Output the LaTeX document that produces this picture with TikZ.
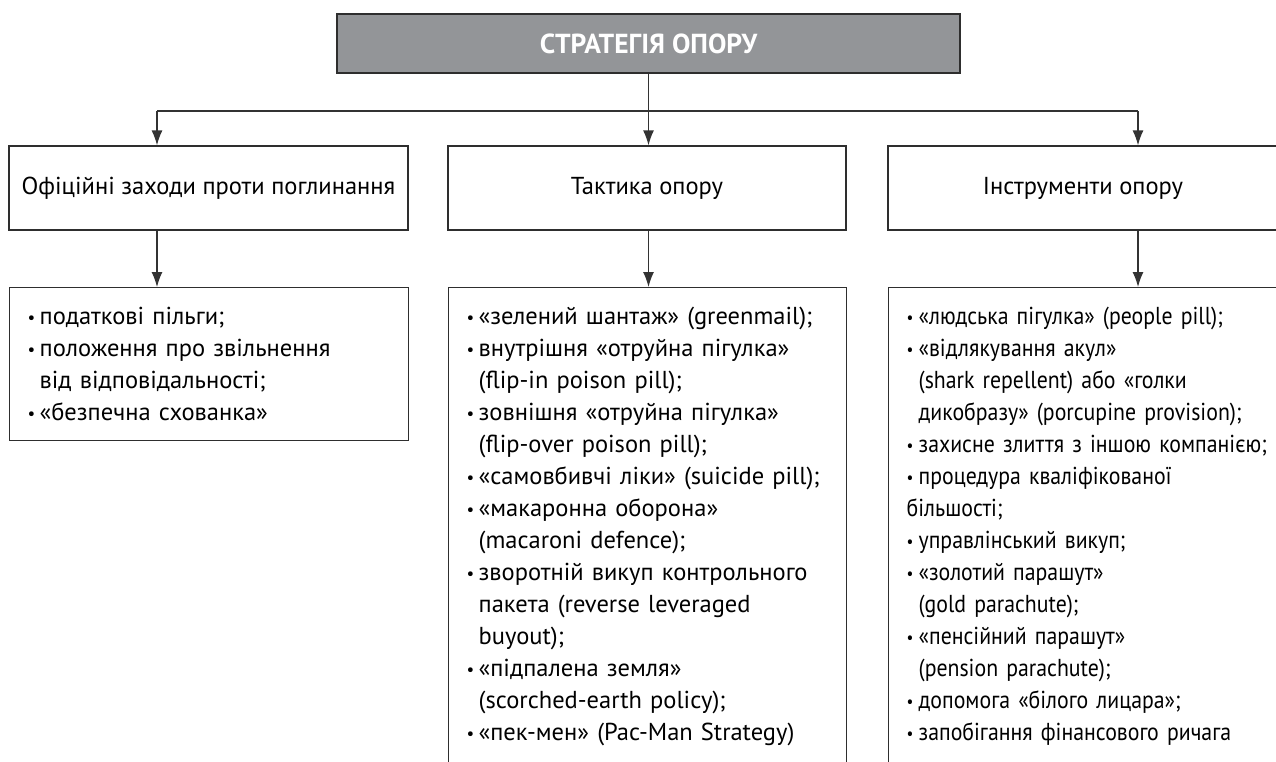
\documentclass[tikz,border=0pt]{standalone}
\usepackage{fontspec}
\setmainfont{PT Sans}
\newfontfamily\narrowfont{PT Sans}[FakeStretch=0.89]
\usetikzlibrary{arrows.meta,positioning}
\newcommand{\bul}{\makebox[12pt][l]{\raisebox{1pt}{\fontsize{17}{17}\selectfont•}}}
\newcommand{\ind}{\hspace*{12pt}}
\hyphenpenalty=10000
\exhyphenpenalty=10000

\begin{document}
\begin{tikzpicture}[x=1pt,y=-1pt,
  frame/.style={draw=framegray,line width=1.3pt},
  headbox/.style={frame,minimum width=399pt,minimum height=84pt,inner sep=0pt,font=\fontsize{24.5}{31}\selectfont},
  listbox/.style={frame,anchor=north west,align=left,inner xsep=18pt,inner ysep=19pt,font=\fontsize{24.5}{32}\selectfont},
  arr/.style={draw=linegray,line width=1.3pt,-{Latex[length=15pt,width=11pt]}}]
\definecolor{framegray}{HTML}{2E2E2E}
\definecolor{linegray}{HTML}{333333}
\definecolor{titlegray}{HTML}{939598}
\useasboundingbox (0,0) rectangle (1276,761);

% title
\node [frame,fill=titlegray,minimum width=623pt,minimum height=59pt,inner sep=0pt,
  text=white,font=\fontsize{27.5}{28}\selectfont\bfseries] (strategy) at (648.5,43.5) {СТРАТЕГІЯ ОПОРУ};

% first row
\node [headbox] (official) at (208.5,188) {Офіційні заходи проти поглинання};
\node [headbox,minimum width=398pt] (tactics) at (647,188) {Тактика опору};
\node [headbox,minimum width=390pt] (tools) at (1083,188) {Інструменти опору};

% second row
\node [listbox,text width=363pt,minimum height=153pt] (offlist) at (9,287) {%
\bul податкові пільги;\\
\bul положення про звільнення\\
\ind від відповідальності;\\
\bul «безпечна схованка»};
\node [listbox,text width=362pt] (taclist) at (448,287) {%
\bul «зелений шантаж» (greenmail);\\
\bul внутрішня «отруйна пігулка»\\
\ind (flip-in poison pill);\\
\bul зовнішня «отруйна пігулка»\\
\ind (flip-over poison pill);\\
\bul «самовбивчі ліки» (suicide pill);\\
\bul «макаронна оборона»\\
\ind (macaroni defence);\\
\bul зворотній викуп контрольного\\
\ind пакета (reverse leveraged\\
\ind buyout);\\
\bul «підпалена земля»\\
\ind (scorched-earth policy);\\
\bul «пек-мен» (Pac-Man Strategy)};
\node [listbox,text width=370pt,font=\fontsize{24.5}{32}\narrowfont] (toollist) at (888,287) {%
\bul «людська пігулка» (people pill);\\
\bul «відлякування акул»\\
\ind (shark repellent) або «голки\\
\ind дикобразу» (porcupine provision);\\
\bul захисне злиття з іншою компанією;\\
\bul процедура кваліфікованої\\
більшості;\\
\bul управлінський викуп;\\
\bul «золотий парашут»\\
\ind (gold parachute);\\
\bul «пенсійний парашут»\\
\ind (pension parachute);\\
\bul допомога «білого лицара»;\\
\bul запобігання фінансового ричага};

% connectors
\coordinate (busL) at (157,111);
\coordinate (busR) at (1138,111);
\draw [draw=linegray,line width=1.3pt] (busL) -- (busR);
\draw [arr] (strategy.south) -- (strategy.south |- tactics.north);
\draw [arr] (busL) -- (busL |- official.north);
\draw [arr] (busR) -- (busR |- tools.north);
\draw [arr] (busL |- official.south) -- (busL |- offlist.north);
\draw [arr] (strategy.south |- tactics.south) -- (strategy.south |- taclist.north);
\draw [arr] (busR |- tools.south) -- (busR |- toollist.north);
\end{tikzpicture}
\end{document}
